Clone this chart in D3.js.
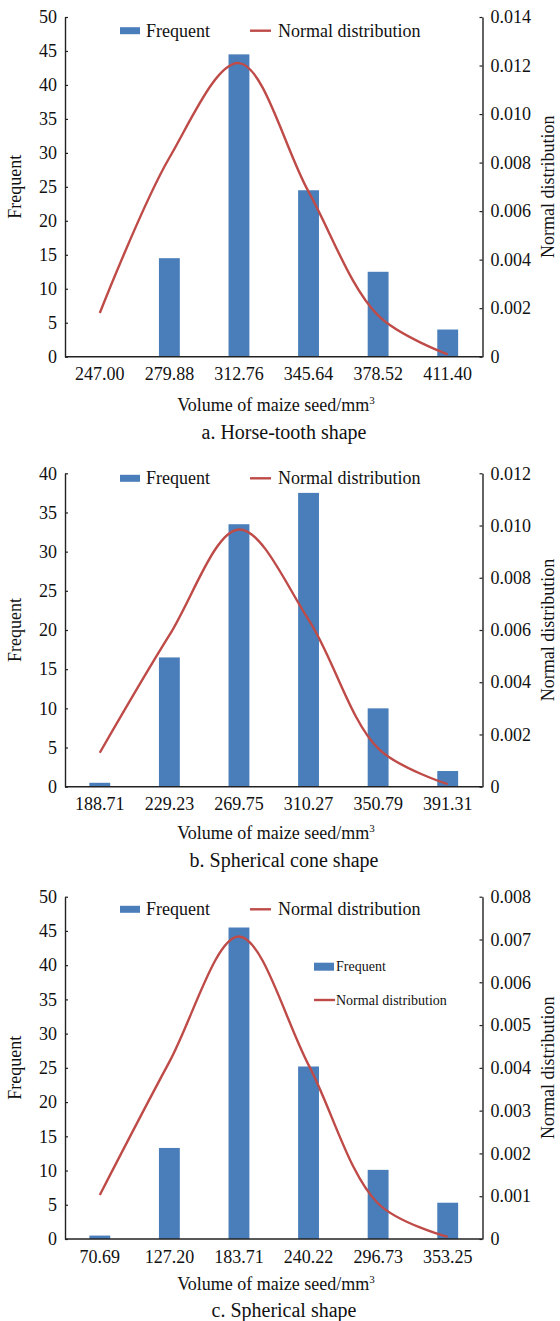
<!DOCTYPE html>
<html>
<head>
<meta charset="utf-8">
<script src="https://cdn.jsdelivr.net/npm/d3@7"></script>
<style>
  html, body { margin: 0; padding: 0; background: #fff; }
  svg text { font-family: "Liberation Serif", "Times New Roman", serif; fill: #111; }
</style>
</head>
<body>
<svg id="chart" width="560" height="1321"></svg>
<script>
// Volume classes (bin labels) for each seed shape
const binsHorseTooth = ["247.00", "279.88", "312.76", "345.64", "378.52", "411.40"];
const binsCone       = ["188.71", "229.23", "269.75", "310.27", "350.79", "391.31"];
const binsSpherical  = ["70.69", "127.20", "183.71", "240.22", "296.73", "353.25"];

// Frequency of seeds in each class (%)
const freqHorseTooth = [0, 14.5, 44.5, 24.5, 12.5, 4];
const freqCone       = [0.5, 16.5, 33.5, 37.5, 10, 2];
const freqSpherical  = [0.5, 13.3, 45.5, 25.2, 10.1, 5.3];

// Normal distribution density at each class
const normHorseTooth = [0.0018, 0.0082, 0.0121, 0.0068, 0.0017, 0.0001];
const normCone       = [0.0013, 0.0058, 0.00985, 0.0064, 0.00147, 0.0001];
const normSpherical  = [0.00103, 0.00414, 0.00707, 0.00407, 0.00083, 0.00005];

// Axis tick settings
const freqTicksA = [0, 5, 10, 15, 20, 25, 30, 35, 40, 45, 50];
const freqTicksB = [0, 5, 10, 15, 20, 25, 30, 35, 40];
const freqTicksC = [0, 5, 10, 15, 20, 25, 30, 35, 40, 45, 50];
const normTicksA = [0, 0.002, 0.004, 0.006, 0.008, 0.010, 0.012, 0.014];
const normTicksB = [0, 0.002, 0.004, 0.006, 0.008, 0.010, 0.012];
const normTicksC = [0, 0.001, 0.002, 0.003, 0.004, 0.005, 0.006, 0.007, 0.008];

const seriesNames = ["Frequent", "Normal distribution"];
const captions = ["a. Horse-tooth shape", "b. Spherical cone shape", "c. Spherical shape"];

const BAR_COLOR = "#4a7ebb";
const LINE_COLOR = "#be4b48";
const AXIS_COLOR = "#222";

const svg = d3.select("#chart");

const left = 65, right = 482.5;

const panels = [
  { bins: binsHorseTooth, freq: freqHorseTooth, norm: normHorseTooth,
    fTicks: freqTicksA, nTicks: normTicksA, top: 17, bottom: 356.7,
    legendY: 30.7, xTitleY: 405, captionY: 432, caption: captions[0], inner: false },
  { bins: binsCone, freq: freqCone, norm: normCone,
    fTicks: freqTicksB, nTicks: normTicksB, top: 473.3, bottom: 786.7,
    legendY: 478.3, xTitleY: 833.3, captionY: 860, caption: captions[1], inner: false },
  { bins: binsSpherical, freq: freqSpherical, norm: normSpherical,
    fTicks: freqTicksC, nTicks: normTicksC, top: 896.7, bottom: 1239,
    legendY: 909.3, xTitleY: 1284.3, captionY: 1310, caption: captions[2], inner: true }
];

const fmtNorm = d => d === 0 ? "0" : d3.format(".3f")(d);

panels.forEach(p => {
  const g = svg.append("g");

  const x = d3.scaleBand().domain(p.bins).range([left, right])
    .paddingInner(0.7).paddingOuter(0.35);
  const yF = d3.scaleLinear().domain([0, d3.max(p.fTicks)]).range([p.bottom, p.top]);
  const yN = d3.scaleLinear().domain([0, d3.max(p.nTicks)]).range([p.bottom, p.top]);

  // bars
  g.append("g").selectAll("rect").data(p.freq).join("rect")
    .attr("x", (d, i) => x(p.bins[i]))
    .attr("width", x.bandwidth())
    .attr("y", d => yF(d))
    .attr("height", d => yF(0) - yF(d))
    .attr("fill", BAR_COLOR);

  // smoothed density line
  const line = d3.line()
    .x((d, i) => x(p.bins[i]) + x.bandwidth() / 2)
    .y(d => yN(d))
    .curve(d3.curveCatmullRom.alpha(0.5));
  g.append("path").datum(p.norm)
    .attr("d", line)
    .attr("fill", "none")
    .attr("stroke", LINE_COLOR)
    .attr("stroke-width", 2.4)
    .attr("stroke-linejoin", "round");

  // left axis
  const axL = g.append("g").attr("transform", `translate(${left},0)`)
    .call(d3.axisLeft(yF).tickValues(p.fTicks).tickSize(-3).tickSizeOuter(0).tickPadding(8));
  // right axis
  const axR = g.append("g").attr("transform", `translate(${right},0)`)
    .call(d3.axisRight(yN).tickValues(p.nTicks).tickFormat(fmtNorm).tickSize(-3).tickSizeOuter(0).tickPadding(8));
  // bottom axis
  const axB = g.append("g").attr("transform", `translate(0,${p.bottom})`)
    .call(d3.axisBottom(x).tickSize(0).tickSizeOuter(0).tickPadding(11));

  [axL, axR, axB].forEach(a => {
    a.select(".domain").attr("stroke", AXIS_COLOR).attr("stroke-width", 1.4);
    a.selectAll(".tick line").attr("stroke", AXIS_COLOR).attr("stroke-width", 1.2);
    a.selectAll("text").style("font-size", "18px").attr("fill", "#111");
  });
  axB.select(".domain").attr("d", `M${left},0H${right}`);

  // axis titles
  const midY = (p.top + p.bottom) / 2;
  g.append("text")
    .attr("transform", `translate(15,${midY}) rotate(-90)`)
    .attr("text-anchor", "middle").attr("dominant-baseline", "central")
    .style("font-size", "18px").text("Frequent");
  g.append("text")
    .attr("transform", `translate(548,${midY}) rotate(-90)`)
    .attr("text-anchor", "middle").attr("dominant-baseline", "central")
    .style("font-size", "18px").text("Normal distribution");

  const xt = g.append("text")
    .attr("x", 276).attr("y", p.xTitleY)
    .attr("text-anchor", "middle").attr("dominant-baseline", "central")
    .style("font-size", "18px");
  xt.append("tspan").text("Volume of maize seed/mm");
  xt.append("tspan").attr("dy", "-0.45em").style("font-size", "11px").text("3");

  g.append("text")
    .attr("x", 284).attr("y", p.captionY)
    .attr("text-anchor", "middle").attr("dominant-baseline", "central")
    .style("font-size", "20px").text(p.caption);

  // legend across the top
  const lg = g.append("g");
  lg.append("rect").attr("x", 120).attr("y", p.legendY - 3.5).attr("width", 20).attr("height", 7)
    .attr("fill", BAR_COLOR);
  lg.append("text").attr("x", 146).attr("y", p.legendY).attr("dominant-baseline", "central")
    .style("font-size", "18px").text(seriesNames[0]);
  lg.append("line").attr("x1", 250).attr("x2", 271).attr("y1", p.legendY).attr("y2", p.legendY)
    .attr("stroke", LINE_COLOR).attr("stroke-width", 2.4);
  lg.append("text").attr("x", 278).attr("y", p.legendY).attr("dominant-baseline", "central")
    .style("font-size", "18px").text(seriesNames[1]);

  // secondary stacked legend inside the plot
  if (p.inner) {
    const il = g.append("g");
    il.append("rect").attr("x", 314).attr("y", 966.7 - 4).attr("width", 20).attr("height", 8)
      .attr("fill", BAR_COLOR);
    il.append("text").attr("x", 336).attr("y", 966.7).attr("dominant-baseline", "central")
      .style("font-size", "14px").text(seriesNames[0]);
    il.append("line").attr("x1", 314).attr("x2", 335).attr("y1", 1000).attr("y2", 1000)
      .attr("stroke", LINE_COLOR).attr("stroke-width", 2.4);
    il.append("text").attr("x", 336).attr("y", 1000).attr("dominant-baseline", "central")
      .style("font-size", "14px").text(seriesNames[1]);
  }
});
</script>
</body>
</html>
